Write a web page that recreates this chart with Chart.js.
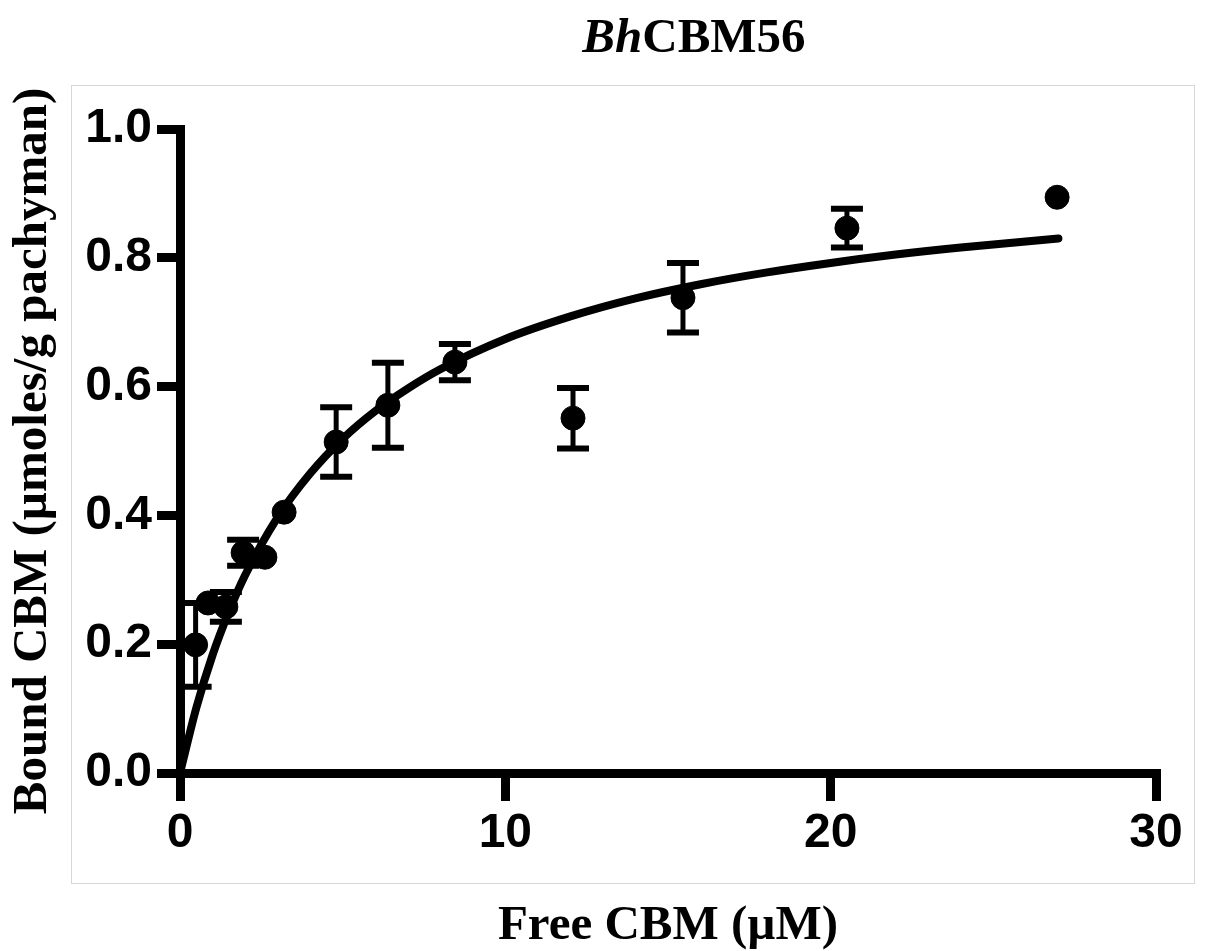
<!DOCTYPE html>
<html>
<head>
<meta charset="utf-8">
<script src="https://cdn.jsdelivr.net/npm/chart.js@4/dist/chart.umd.min.js"></script>
<style>
  html, body { margin: 0; padding: 0; background: #fff; }
  #wrap { position: relative; width: 1211px; height: 951px; overflow: hidden; }
  #frame { position: absolute; left: 71px; top: 85px; width: 1124px; height: 799px; border: 1.5px solid #d6d6d6; box-sizing: border-box; }
  #title { position: absolute; left: 0; top: 11px; width: 1388px; text-align: center; font: bold 49px 'Liberation Serif', 'Times New Roman', serif; line-height: 49px; color: #000; white-space: nowrap; }
  #c { position: absolute; left: 0; top: 0; }
</style>
</head>
<body>
<div id="wrap">
  <div id="frame"></div>
  <div id="title"><i>Bh</i>CBM56</div>
  <canvas id="c" width="1211" height="951"></canvas>
</div>
<script>
// ---- data ----
const pointX   = [0.48, 0.86, 1.41, 1.94, 2.61, 3.2, 4.8, 6.39, 8.45, 12.08, 15.46, 20.5, 26.96];
const pointY   = [0.199, 0.264, 0.258, 0.342, 0.335, 0.405, 0.514, 0.571, 0.638, 0.551, 0.738, 0.846, 0.894];
const pointErr = [0.065, 0, 0.023, 0.02, 0, 0, 0.054, 0.066, 0.028, 0.047, 0.054, 0.03, 0];

const curveX = [0, 0.5, 1, 1.5, 2, 3, 4, 5, 6, 7, 8, 10, 12, 14, 16, 18, 20, 22, 24, 27];
const curveY = [0, 0.101, 0.183, 0.25, 0.307, 0.397, 0.465, 0.519, 0.562, 0.597, 0.627, 0.674, 0.709, 0.737, 0.759, 0.777, 0.792, 0.805, 0.816, 0.830];

const xTickValues = [0, 10, 20, 30];
const xTickLabels = ['0', '10', '20', '30'];
const yTickValues = [0, 0.2, 0.4, 0.6, 0.8, 1.0];
const yTickLabels = ['0.0', '0.2', '0.4', '0.6', '0.8', '1.0'];

const xTitle = 'Free CBM (µM)';
const yTitle = 'Bound CBM (µmoles/g pachyman)';

// ---- build ----
const points = pointX.map((x, i) => ({ x: x, y: pointY[i] }));
const curve = curveX.map((x, i) => ({ x: x, y: curveY[i] }));

const errorBars = {
  id: 'errorBars',
  beforeDatasetsDraw(chart) {
    const ctx = chart.ctx;
    const xs = chart.scales.x, ys = chart.scales.y;
    ctx.save();
    ctx.strokeStyle = '#000';
    ctx.lineCap = 'butt';
    pointX.forEach((x, i) => {
      const e = pointErr[i];
      if (!e) return;
      const px = xs.getPixelForValue(x);
      const top = ys.getPixelForValue(pointY[i] + e);
      const bot = ys.getPixelForValue(pointY[i] - e);
      ctx.lineWidth = 5;
      ctx.beginPath();
      ctx.moveTo(px, top); ctx.lineTo(px, bot);
      ctx.stroke();
      ctx.lineWidth = 6;
      ctx.beginPath();
      ctx.moveTo(px - 16, top); ctx.lineTo(px + 16, top);
      ctx.moveTo(px - 16, bot); ctx.lineTo(px + 16, bot);
      ctx.stroke();
    });
    ctx.restore();
  }
};

const tickFont = { family: "'Liberation Sans', Arial, sans-serif", size: 48, weight: 'bold' };
const titleFont = { family: "'Liberation Serif', 'Times New Roman', serif", size: 49, weight: 'bold', lineHeight: 1 };

new Chart(document.getElementById('c'), {
  type: 'scatter',
  data: {
    datasets: [
      {
        type: 'line',
        data: curve,
        borderColor: '#000',
        borderWidth: 8,
        borderCapStyle: 'round',
        pointRadius: 0,
        fill: false,
        cubicInterpolationMode: 'monotone',
        clip: false,
        order: 2
      },
      {
        type: 'scatter',
        data: points,
        backgroundColor: '#000',
        borderColor: '#000',
        pointRadius: 12,
        pointHoverRadius: 12,
        clip: false,
        order: 1
      }
    ]
  },
  options: {
    responsive: false,
    animation: false,
    events: [],
    layout: { padding: { left: 0, top: 129, right: 55, bottom: 0 } },
    plugins: { legend: { display: false }, tooltip: { enabled: false }, title: { display: false } },
    scales: {
      x: {
        type: 'linear',
        min: 0, max: 30,
        afterFit(s) { s.height = 178; },
        afterBuildTicks(s) { s.ticks = xTickValues.map(v => ({ value: v })); },
        border: { display: true, color: '#000', width: 9 },
        grid: { drawOnChartArea: false, drawTicks: true, tickLength: 28, tickWidth: 9, tickColor: '#000', color: '#000', lineWidth: 9 },
        ticks: {
          color: '#000', font: tickFont, padding: 4, maxRotation: 0, autoSkip: false,
          callback: (v) => { const i = xTickValues.indexOf(v); return i >= 0 ? xTickLabels[i] : ''; }
        },
        title: { display: true, text: xTitle, color: '#000', font: titleFont, padding: { top: 0, bottom: 0 } }
      },
      y: {
        type: 'linear',
        min: 0, max: 1,
        afterFit(s) { s.width = 180; },
        afterBuildTicks(s) { s.ticks = yTickValues.map(v => ({ value: v })); },
        border: { display: true, color: '#000', width: 9 },
        grid: { drawOnChartArea: false, drawTicks: true, tickLength: 23, tickWidth: 9, tickColor: '#000', color: '#000', lineWidth: 9 },
        ticks: {
          color: '#000', font: tickFont, padding: 5, autoSkip: false,
          callback: (v) => { const i = yTickValues.findIndex(t => Math.abs(t - v) < 1e-9); return i >= 0 ? yTickLabels[i] : ''; }
        },
        title: { display: true, text: yTitle, color: '#000', font: titleFont, padding: { top: 9, bottom: 0 } }
      }
    }
  },
  plugins: [errorBars]
});
</script>
</body>
</html>
